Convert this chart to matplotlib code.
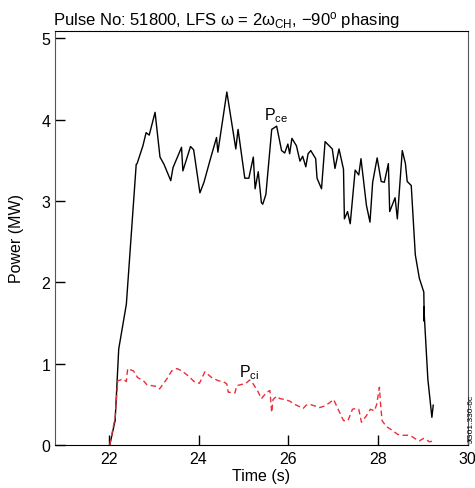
import numpy as np
import matplotlib
matplotlib.use('Agg')
import matplotlib.pyplot as plt

plt.rcParams['font.family'] = ['Liberation Sans', 'DejaVu Sans']
plt.rcParams['mathtext.fontset'] = 'custom'
plt.rcParams['mathtext.rm'] = 'Liberation Sans'
plt.rcParams['mathtext.it'] = 'Liberation Sans:italic'

# P_ce (черная линия), время в секундах, мощность в МВт
t_ce = [22.02, 22.14, 22.22, 22.39, 22.61, 22.63, 22.76, 22.83, 22.90, 23.03,
        23.14, 23.23, 23.38, 23.43, 23.62, 23.65, 23.82, 23.89, 24.03, 24.12,
        24.26, 24.40, 24.43, 24.63, 24.83, 24.88, 25.03, 25.12, 25.22, 25.26,
        25.33, 25.40, 25.43, 25.50, 25.63, 25.74, 25.85, 25.92, 25.99, 26.03,
        26.08, 26.18, 26.26, 26.32, 26.39, 26.44, 26.50, 26.61, 26.64, 26.74,
        26.82, 26.98, 27.04, 27.13, 27.23, 27.25, 27.32, 27.38, 27.49, 27.57,
        27.62, 27.74, 27.82, 27.88, 27.98, 28.07, 28.14, 28.23, 28.26, 28.38,
        28.43, 28.54, 28.61, 28.65, 28.74, 28.83, 28.92, 29.02, 29.03, 29.02,
        29.11, 29.20, 29.23]
p_ce = [0.00, 0.30, 1.18, 1.73, 3.45, 3.46, 3.68, 3.84, 3.81, 4.09,
        3.54, 3.45, 3.25, 3.41, 3.66, 3.37, 3.67, 3.63, 3.10, 3.23,
        3.51, 3.78, 3.60, 4.34, 3.64, 3.88, 3.28, 3.28, 3.54, 3.15,
        3.36, 2.98, 2.96, 3.08, 3.88, 3.92, 3.62, 3.59, 3.70, 3.58,
        3.77, 3.68, 3.49, 3.55, 3.42, 3.58, 3.62, 3.52, 3.28, 3.15,
        3.73, 3.64, 3.40, 3.64, 3.39, 2.78, 2.87, 2.72, 3.38, 3.32,
        3.52, 2.95, 2.74, 3.23, 3.53, 3.24, 3.23, 3.46, 2.87, 3.04,
        2.78, 3.62, 3.46, 3.24, 3.19, 2.34, 2.05, 1.88, 1.52, 1.70,
        0.81, 0.34, 0.49]

# P_ci (красная пунктирная линия)
t_ci = [22.02, 22.14, 22.20, 22.32, 22.39, 22.42, 22.55, 22.64, 22.77, 22.85,
        22.96, 23.06, 23.13, 23.29, 23.40, 23.52, 23.63, 23.77, 23.92, 24.02,
        24.14, 24.29, 24.44, 24.55, 24.63, 24.66, 24.81, 24.85, 25.00, 25.06,
        25.14, 25.22, 25.33, 25.40, 25.52, 25.59, 25.63, 25.66, 25.74, 25.81,
        25.92, 26.03, 26.14, 26.22, 26.33, 26.40, 26.48, 26.59, 26.70, 26.81,
        26.92, 27.01, 27.11, 27.23, 27.33, 27.43, 27.52, 27.57, 27.63, 27.74,
        27.83, 27.92, 27.97, 28.03, 28.06, 28.09, 28.18, 28.29, 28.44, 28.55,
        28.66, 28.74, 28.85, 28.92, 29.01, 29.07, 29.14, 29.26]
p_ci = [0.00, 0.34, 0.79, 0.81, 0.78, 0.94, 0.91, 0.83, 0.79, 0.74,
        0.73, 0.72, 0.69, 0.81, 0.91, 0.94, 0.91, 0.85, 0.77, 0.76,
        0.90, 0.83, 0.79, 0.78, 0.75, 0.65, 0.64, 0.73, 0.75, 0.76,
        0.80, 0.75, 0.65, 0.57, 0.65, 0.67, 0.40, 0.56, 0.60, 0.57,
        0.56, 0.54, 0.50, 0.48, 0.45, 0.49, 0.50, 0.48, 0.46, 0.48,
        0.52, 0.56, 0.44, 0.30, 0.30, 0.44, 0.45, 0.44, 0.28, 0.36,
        0.44, 0.42, 0.50, 0.71, 0.48, 0.30, 0.23, 0.19, 0.13, 0.12,
        0.12, 0.11, 0.07, 0.05, 0.08, 0.07, 0.04, 0.05]

fig = plt.figure(figsize=(4.75, 4.89), dpi=100)
ax = fig.add_axes([0.1158, 0.0879, 0.869, 0.8467])

ax.plot(t_ce, p_ce, color='black', lw=1.0)
ax.plot(t_ci, p_ci, color='#e8303a', lw=1.0, dashes=(4, 2.5))

ax.set_xlim(20.8, 30)
ax.set_ylim(0, 5.09)
ax.set_xticks([22, 24, 26, 28, 30])
ax.set_yticks([0, 1, 2, 3, 4, 5])
ax.tick_params(direction='in', length=7, width=1, labelsize=11.5, colors='black')
ax.tick_params(axis='x', pad=4)
for s in ['left', 'right']:
    ax.spines[s].set_color('#555555')

ax.set_xlabel('Time (s)', fontsize=11.5, labelpad=2)
ax.set_ylabel('Power (MW)', fontsize=11.5, labelpad=12)
ax.set_title(r'Pulse No: 51800, LFS ω = 2ω$_{\rm CH}$, $-$90$^{\rm o}$ phasing',
             fontsize=12, loc='left', x=-0.005, pad=5)

ax.text(25.45, 4.0, r'P$_{\rm ce}$', fontsize=11.5)
ax.text(24.9, 0.84, r'P$_{\rm ci}$', fontsize=11.5)

fig.text(0.993, 0.095, 'JG01.330-6c', rotation=90, fontsize=6, ha='center', va='bottom')

plt.savefig('out.png', dpi=100)
